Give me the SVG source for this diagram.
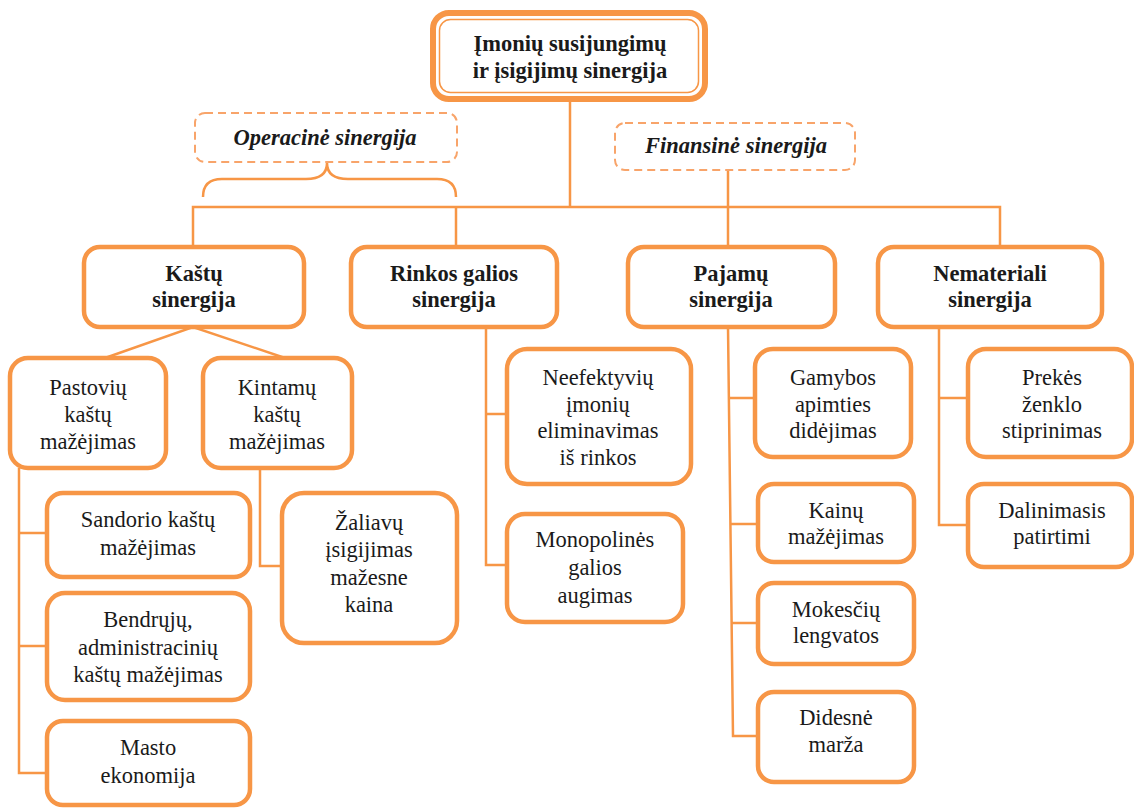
<svg xmlns="http://www.w3.org/2000/svg" width="1134" height="810" viewBox="0 0 1134 810">
  <rect width="1134" height="810" fill="#ffffff"/>

  <!-- connectors -->
  <g id="connectors" fill="none" stroke="#F79646" stroke-width="2.5">
    <line x1="570" y1="101" x2="570" y2="207"/>
    <line x1="728" y1="170" x2="728" y2="207"/>
    <polyline points="193,247 193,207 1000,207 1000,247"/>
    <line x1="456" y1="207" x2="456" y2="247"/>
    <line x1="728" y1="207" x2="728" y2="247"/>
    <!-- operating synergy brace -->
    <path d="M203,197 Q203,179 222,179 L306,179 Q327,179 327,163 Q327,179 348,179 L437,179 Q456,179 456,197"/>
    <!-- cost synergy split -->
    <polyline points="105,358 193,327 285,358"/>
    <!-- fixed cost branch -->
    <polyline points="19,468 19,773 47,773"/>
    <line x1="19" y1="533" x2="47" y2="533"/>
    <line x1="19" y1="646" x2="47" y2="646"/>
    <!-- variable cost branch -->
    <polyline points="260,468 260,566 282,566"/>
    <!-- market power branch -->
    <polyline points="486,327 486,565 507,565"/>
    <line x1="486" y1="414" x2="507" y2="414"/>
    <!-- revenue branch -->
    <polyline points="728,327 733,736 758,736"/>
    <line x1="729" y1="398" x2="755" y2="398"/>
    <line x1="731" y1="524" x2="758" y2="524"/>
    <line x1="732" y1="623" x2="758" y2="623"/>
    <!-- intangible branch -->
    <polyline points="939,327 939,525 968,525"/>
    <line x1="939" y1="398" x2="968" y2="398"/>
  </g>

  <!-- nodes: shared box and text look set once on the wrapper -->
  <g id="nodes" fill="#1a1a1a" stroke="none" font-size="22.5" text-anchor="middle" font-family="Liberation Serif">

    <g id="root">
      <rect x="433" y="13" width="272" height="86" rx="16" fill="#ffffff" stroke="#F79646" stroke-width="6"/>
      <rect x="439.5" y="19.5" width="259" height="73" rx="11" fill="none" stroke="#F79646" stroke-width="1.5"/>
      <g font-weight="bold">
        <text font-family="Liberation Serif" x="570" y="51">Įmonių susijungimų</text>
        <text font-family="Liberation Serif" x="570" y="78">ir įsigijimų  sinergija</text>
      </g>
    </g>

    <g id="operacine">
      <rect x="195" y="113" width="262" height="49" rx="10" fill="#ffffff" stroke="#F8A46A" stroke-width="2" stroke-dasharray="8 5"/>
      <text font-family="Liberation Serif" font-weight="bold" font-style="italic" x="325" y="145">Operacinė sinergija</text>
    </g>

    <g id="finansine">
      <rect x="615" y="123" width="240" height="47" rx="10" fill="#ffffff" stroke="#F8A46A" stroke-width="2" stroke-dasharray="8 5"/>
      <text font-family="Liberation Serif" font-weight="bold" font-style="italic" x="736" y="153">Finansinė sinergija</text>
    </g>

    <!-- second level -->
    <g font-weight="bold">
      <g id="kastu">
        <rect x="84" y="247" width="220" height="80" rx="16" fill="#ffffff" stroke="#F79646" stroke-width="4.5"/>
        <text font-family="Liberation Serif" x="194" y="281">Kaštų</text>
        <text font-family="Liberation Serif" x="194" y="307">sinergija</text>
      </g>
      <g id="rinkos">
        <rect x="351" y="247" width="206" height="80" rx="16" fill="#ffffff" stroke="#F79646" stroke-width="4.5"/>
        <text font-family="Liberation Serif" x="454" y="281">Rinkos galios</text>
        <text font-family="Liberation Serif" x="454" y="307">sinergija</text>
      </g>
      <g id="pajamu">
        <rect x="628" y="247" width="207" height="80" rx="16" fill="#ffffff" stroke="#F79646" stroke-width="4.5"/>
        <text font-family="Liberation Serif" x="731" y="281">Pajamų</text>
        <text font-family="Liberation Serif" x="731" y="307">sinergija</text>
      </g>
      <g id="nemateriali">
        <rect x="878" y="247" width="224" height="80" rx="16" fill="#ffffff" stroke="#F79646" stroke-width="4.5"/>
        <text font-family="Liberation Serif" x="990" y="281">Nemateriali</text>
        <text font-family="Liberation Serif" x="990" y="307">sinergija</text>
      </g>
    </g>

    <!-- cost synergy leaves -->
    <g id="pastoviu">
      <rect x="10" y="358" width="156" height="110" rx="18" fill="#ffffff" stroke="#F79646" stroke-width="4.5"/>
      <text font-family="Liberation Serif" x="88" y="395">Pastovių</text>
      <text font-family="Liberation Serif" x="88" y="422">kaštų</text>
      <text font-family="Liberation Serif" x="88" y="449">mažėjimas</text>
    </g>
    <g id="kintamu">
      <rect x="203" y="358" width="149" height="110" rx="18" fill="#ffffff" stroke="#F79646" stroke-width="4.5"/>
      <text font-family="Liberation Serif" x="277" y="395">Kintamų</text>
      <text font-family="Liberation Serif" x="277" y="422">kaštų</text>
      <text font-family="Liberation Serif" x="277" y="449">mažėjimas</text>
    </g>
    <g id="sandorio">
      <rect x="47" y="493" width="203" height="84" rx="16" fill="#ffffff" stroke="#F79646" stroke-width="4.5"/>
      <text font-family="Liberation Serif" x="148" y="527">Sandorio kaštų</text>
      <text font-family="Liberation Serif" x="148" y="555">mažėjimas</text>
    </g>
    <g id="bendruju">
      <rect x="47" y="593" width="203" height="107" rx="18" fill="#ffffff" stroke="#F79646" stroke-width="4.5"/>
      <text font-family="Liberation Serif" x="148" y="627">Bendrųjų,</text>
      <text font-family="Liberation Serif" x="148" y="655">administracinių</text>
      <text font-family="Liberation Serif" x="148" y="682">kaštų mažėjimas</text>
    </g>
    <g id="masto">
      <rect x="47" y="721" width="203" height="84" rx="16" fill="#ffffff" stroke="#F79646" stroke-width="4.5"/>
      <text font-family="Liberation Serif" x="148" y="755">Masto</text>
      <text font-family="Liberation Serif" x="148" y="783">ekonomija</text>
    </g>
    <g id="zaliavu">
      <rect x="282" y="493" width="175" height="150" rx="22" fill="#ffffff" stroke="#F79646" stroke-width="4.5"/>
      <text font-family="Liberation Serif" x="369" y="530">Žaliavų</text>
      <text font-family="Liberation Serif" x="369" y="557">įsigijimas</text>
      <text font-family="Liberation Serif" x="369" y="585">mažesne</text>
      <text font-family="Liberation Serif" x="369" y="612">kaina</text>
    </g>

    <!-- market power leaves -->
    <g id="neefektyviu">
      <rect x="507" y="349" width="184" height="135" rx="20" fill="#ffffff" stroke="#F79646" stroke-width="4.5"/>
      <text font-family="Liberation Serif" x="598" y="385">Neefektyvių</text>
      <text font-family="Liberation Serif" x="598" y="412">įmonių</text>
      <text font-family="Liberation Serif" x="598" y="438">eliminavimas</text>
      <text font-family="Liberation Serif" x="598" y="465">iš rinkos</text>
    </g>
    <g id="monopolines">
      <rect x="507" y="514" width="176" height="108" rx="18" fill="#ffffff" stroke="#F79646" stroke-width="4.5"/>
      <text font-family="Liberation Serif" x="595" y="547">Monopolinės</text>
      <text font-family="Liberation Serif" x="595" y="575">galios</text>
      <text font-family="Liberation Serif" x="595" y="603">augimas</text>
    </g>

    <!-- revenue leaves -->
    <g id="gamybos">
      <rect x="755" y="349" width="156" height="108" rx="18" fill="#ffffff" stroke="#F79646" stroke-width="4.5"/>
      <text font-family="Liberation Serif" x="833" y="385">Gamybos</text>
      <text font-family="Liberation Serif" x="833" y="412">apimties</text>
      <text font-family="Liberation Serif" x="833" y="438">didėjimas</text>
    </g>
    <g id="kainu">
      <rect x="758" y="484" width="156" height="78" rx="16" fill="#ffffff" stroke="#F79646" stroke-width="4.5"/>
      <text font-family="Liberation Serif" x="836" y="518">Kainų</text>
      <text font-family="Liberation Serif" x="836" y="544">mažėjimas</text>
    </g>
    <g id="mokesciu">
      <rect x="758" y="583" width="156" height="81" rx="16" fill="#ffffff" stroke="#F79646" stroke-width="4.5"/>
      <text font-family="Liberation Serif" x="836" y="617">Mokesčių</text>
      <text font-family="Liberation Serif" x="836" y="643">lengvatos</text>
    </g>
    <g id="didesne">
      <rect x="758" y="692" width="156" height="90" rx="16" fill="#ffffff" stroke="#F79646" stroke-width="4.5"/>
      <text font-family="Liberation Serif" x="836" y="725">Didesnė</text>
      <text font-family="Liberation Serif" x="836" y="752">marža</text>
    </g>

    <!-- intangible leaves -->
    <g id="prekes">
      <rect x="968" y="349" width="164" height="108" rx="18" fill="#ffffff" stroke="#F79646" stroke-width="4.5"/>
      <text font-family="Liberation Serif" x="1052" y="385">Prekės</text>
      <text font-family="Liberation Serif" x="1052" y="412">ženklo</text>
      <text font-family="Liberation Serif" x="1052" y="438">stiprinimas</text>
    </g>
    <g id="dalinimasis">
      <rect x="968" y="484" width="164" height="83" rx="16" fill="#ffffff" stroke="#F79646" stroke-width="4.5"/>
      <text font-family="Liberation Serif" x="1052" y="518">Dalinimasis</text>
      <text font-family="Liberation Serif" x="1052" y="544">patirtimi</text>
    </g>
  </g>
</svg>
